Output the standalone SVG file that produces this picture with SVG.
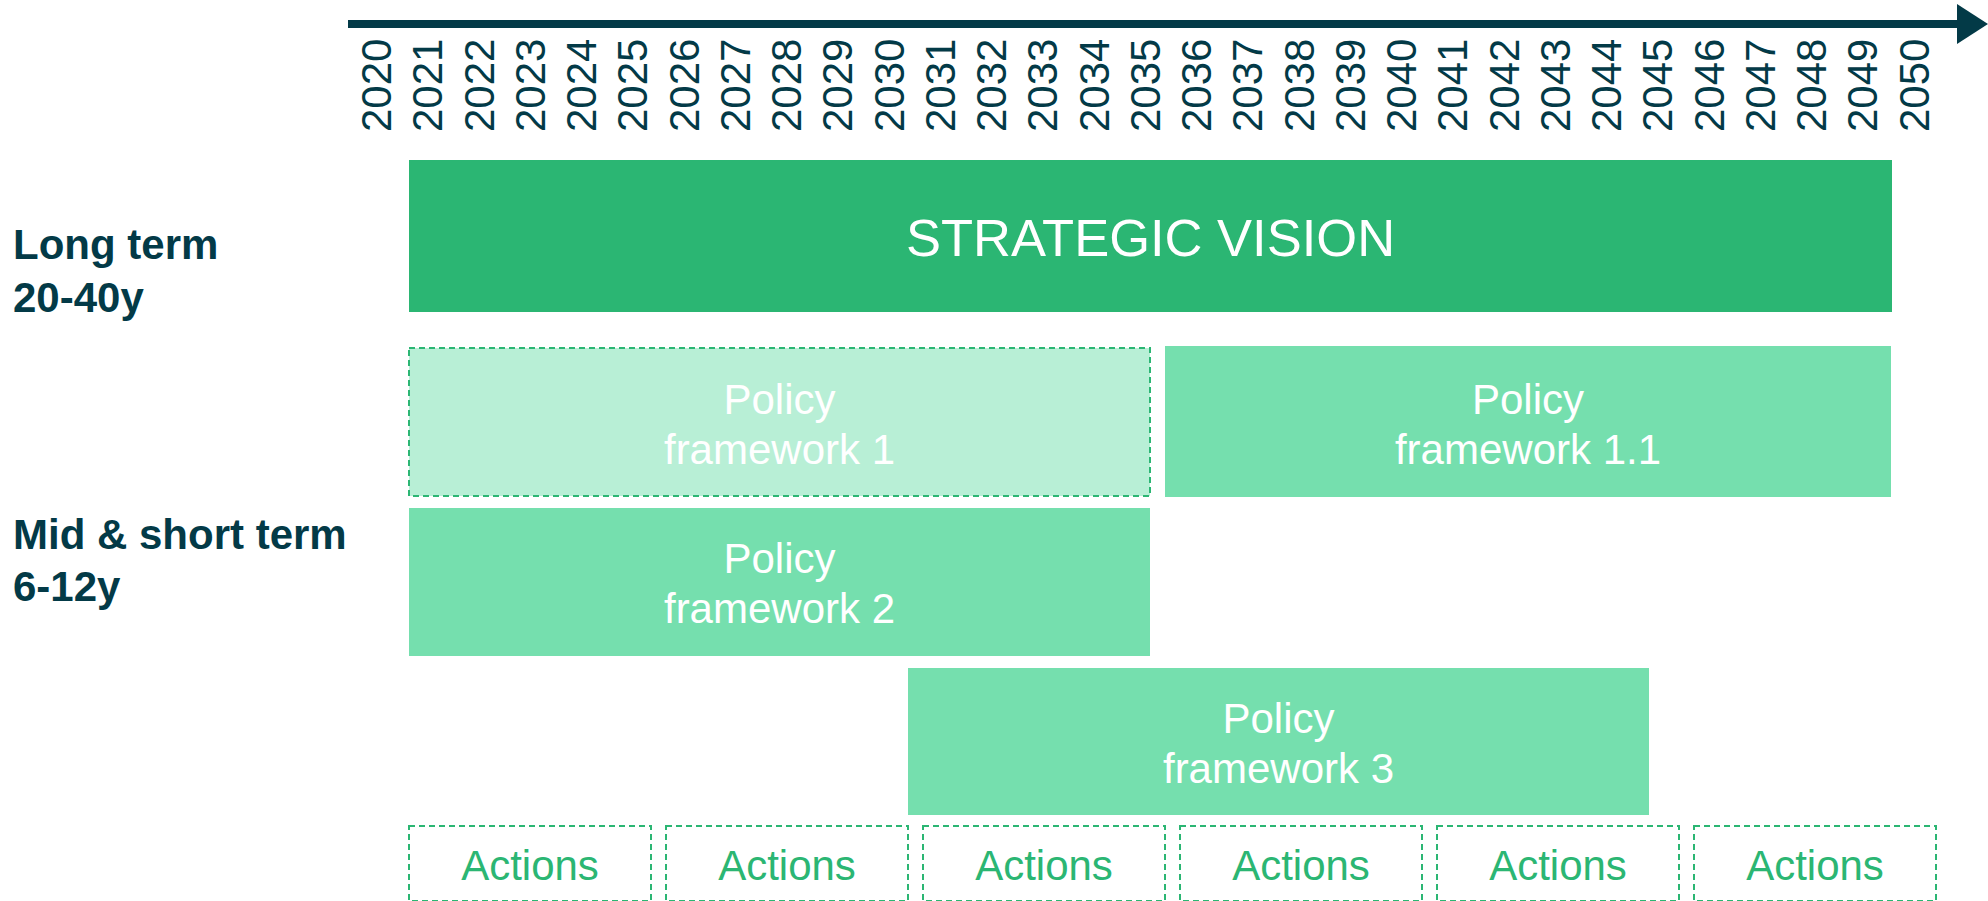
<svg xmlns="http://www.w3.org/2000/svg" width="1988" height="901" viewBox="0 0 1988 901">
<style>
  .yr { font-family: "Liberation Sans", Arial, sans-serif; font-size: 42px; fill: #033A47; }
  .lbl { font-family: "Liberation Sans", Arial, sans-serif; font-size: 42px; font-weight: bold; fill: #033A47; }
  .wt { font-family: "Liberation Sans", Arial, sans-serif; font-size: 42px; fill: #FFFFFF; text-anchor: middle; }
  .sv { font-family: "Liberation Sans", Arial, sans-serif; font-size: 52.5px; fill: #FFFFFF; text-anchor: middle; }
  .act { font-family: "Liberation Sans", Arial, sans-serif; font-size: 42px; fill: #2BB673; text-anchor: middle; }
  .pf { fill: #75DFAE; }
  .pfl { fill: #B8EFD6; stroke: #2BB673; stroke-width: 2; stroke-dasharray: 6 4; }
  .actbox { fill: none; stroke: #2BB673; stroke-width: 2; stroke-dasharray: 6 4; }
</style>
<rect width="1988" height="901" fill="#FFFFFF"/>
<g id="axis">
  <rect x="348" y="20" width="1612" height="8" fill="#033A47"/>
  <polygon points="1957,4 1988,24 1957,44" fill="#033A47"/>
  <g id="years">
    <text class="yr" transform="translate(391,132) rotate(-90)">2020</text>
    <text class="yr" transform="translate(442.25,132) rotate(-90)">2021</text>
    <text class="yr" transform="translate(493.5,132) rotate(-90)">2022</text>
    <text class="yr" transform="translate(544.75,132) rotate(-90)">2023</text>
    <text class="yr" transform="translate(596,132) rotate(-90)">2024</text>
    <text class="yr" transform="translate(647.25,132) rotate(-90)">2025</text>
    <text class="yr" transform="translate(698.5,132) rotate(-90)">2026</text>
    <text class="yr" transform="translate(749.75,132) rotate(-90)">2027</text>
    <text class="yr" transform="translate(801,132) rotate(-90)">2028</text>
    <text class="yr" transform="translate(852.25,132) rotate(-90)">2029</text>
    <text class="yr" transform="translate(903.5,132) rotate(-90)">2030</text>
    <text class="yr" transform="translate(954.75,132) rotate(-90)">2031</text>
    <text class="yr" transform="translate(1006,132) rotate(-90)">2032</text>
    <text class="yr" transform="translate(1057.25,132) rotate(-90)">2033</text>
    <text class="yr" transform="translate(1108.5,132) rotate(-90)">2034</text>
    <text class="yr" transform="translate(1159.75,132) rotate(-90)">2035</text>
    <text class="yr" transform="translate(1211,132) rotate(-90)">2036</text>
    <text class="yr" transform="translate(1262.25,132) rotate(-90)">2037</text>
    <text class="yr" transform="translate(1313.5,132) rotate(-90)">2038</text>
    <text class="yr" transform="translate(1364.75,132) rotate(-90)">2039</text>
    <text class="yr" transform="translate(1416,132) rotate(-90)">2040</text>
    <text class="yr" transform="translate(1467.25,132) rotate(-90)">2041</text>
    <text class="yr" transform="translate(1518.5,132) rotate(-90)">2042</text>
    <text class="yr" transform="translate(1569.75,132) rotate(-90)">2043</text>
    <text class="yr" transform="translate(1621,132) rotate(-90)">2044</text>
    <text class="yr" transform="translate(1672.25,132) rotate(-90)">2045</text>
    <text class="yr" transform="translate(1723.5,132) rotate(-90)">2046</text>
    <text class="yr" transform="translate(1774.75,132) rotate(-90)">2047</text>
    <text class="yr" transform="translate(1826,132) rotate(-90)">2048</text>
    <text class="yr" transform="translate(1877.25,132) rotate(-90)">2049</text>
    <text class="yr" transform="translate(1928.5,132) rotate(-90)">2050</text>
  </g>
</g>
<g id="label-long">
  <text class="lbl" x="13" y="259">Long term</text>
  <text class="lbl" x="13" y="312">20-40y</text>
</g>
<g id="label-mid">
  <text class="lbl" x="13" y="549">Mid &amp; short term</text>
  <text class="lbl" x="13" y="601">6-12y</text>
</g>
<g id="strategic-vision">
  <rect x="409" y="160" width="1483" height="152" fill="#2BB673"/>
  <text class="sv" x="1150.5" y="256">STRATEGIC VISION</text>
</g>
<g id="policy-framework-1">
  <rect class="pfl" x="409" y="348" width="741" height="148"/>
  <text class="wt" x="779.5" y="414">Policy</text>
  <text class="wt" x="779.5" y="464">framework 1</text>
</g>
<g id="policy-framework-1-1">
  <rect class="pf" x="1165" y="346" width="726" height="151"/>
  <text class="wt" x="1528" y="414">Policy</text>
  <text class="wt" x="1528" y="464">framework 1.1</text>
</g>
<g id="policy-framework-2">
  <rect class="pf" x="409" y="508" width="741" height="148"/>
  <text class="wt" x="779.5" y="573">Policy</text>
  <text class="wt" x="779.5" y="623">framework 2</text>
</g>
<g id="policy-framework-3">
  <rect class="pf" x="908" y="668" width="741" height="147"/>
  <text class="wt" x="1278.5" y="733">Policy</text>
  <text class="wt" x="1278.5" y="783">framework 3</text>
</g>
<g id="actions-1">
  <rect class="actbox" x="409" y="826" width="242" height="75"/>
  <text class="act" x="530" y="880">Actions</text>
</g>
<g id="actions-2">
  <rect class="actbox" x="666" y="826" width="242" height="75"/>
  <text class="act" x="787" y="880">Actions</text>
</g>
<g id="actions-3">
  <rect class="actbox" x="923" y="826" width="242" height="75"/>
  <text class="act" x="1044" y="880">Actions</text>
</g>
<g id="actions-4">
  <rect class="actbox" x="1180" y="826" width="242" height="75"/>
  <text class="act" x="1301" y="880">Actions</text>
</g>
<g id="actions-5">
  <rect class="actbox" x="1437" y="826" width="242" height="75"/>
  <text class="act" x="1558" y="880">Actions</text>
</g>
<g id="actions-6">
  <rect class="actbox" x="1694" y="826" width="242" height="75"/>
  <text class="act" x="1815" y="880">Actions</text>
</g>
<g id="connectors"></g>
</svg>
